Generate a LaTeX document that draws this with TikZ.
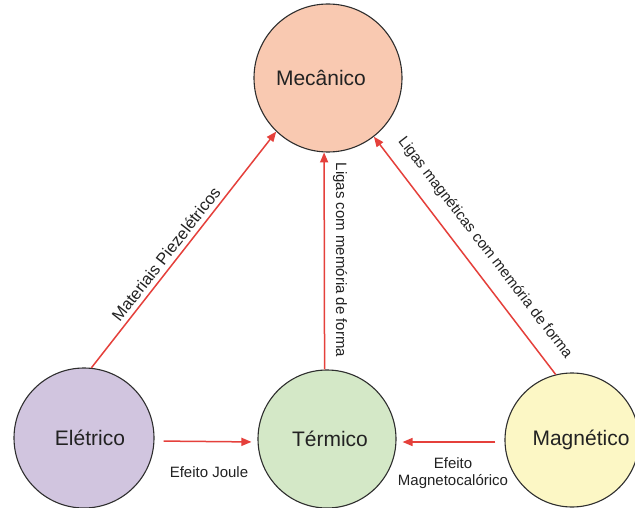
\documentclass[tikz,border=0pt]{standalone}
\usepackage{fontspec}
\setmainfont{Liberation Sans}
\usetikzlibrary{arrows.meta}
\definecolor{mecfill}{HTML}{F9C9B1}
\definecolor{elefill}{HTML}{D1C5DF}
\definecolor{terfill}{HTML}{D4E8C7}
\definecolor{magfill}{HTML}{FCF7C5}
\definecolor{circline}{HTML}{2E2E2E}
\definecolor{arrred}{HTML}{E5403B}
\definecolor{txt}{HTML}{222222}
\begin{document}
\begin{tikzpicture}[x=1pt,y=-1pt,
  circ/.style={circle, draw=circline, line width=1.1pt, inner sep=0pt,
    font=\fontsize{21}{25}\selectfont, text=txt},
  arr/.style={draw=arrred, line width=1.5pt, -{Triangle[length=10pt,width=8pt]}},
  lbl/.style={font=\fontsize{15}{17}\selectfont, text=txt, inner sep=0pt}]
\useasboundingbox (0,0) rectangle (635,508);
\fill[white] (0,0) rectangle (635,508);
\node[circ, fill=mecfill, minimum size=148pt] (mec) at (328,78) {\hspace*{-14pt}Mecânico};
\node[circ, fill=elefill, minimum size=140pt] (ele) at (84,438) {\hspace*{12pt}Elétrico};
\node[circ, fill=terfill, minimum size=138pt] (ter) at (327,439) {\hspace*{6pt}Térmico};
\node[circ, fill=magfill, minimum size=134pt] (mag) at (572,440) {\hspace*{18pt}Magnético};

\draw[arr] (ele.84) -- (mec.226);
\draw[arr] (ter.92.5) -- (mec.267.7);
\draw[arr] (mag.104) -- (mec.308);
\draw[arr, shorten <=9pt, shorten >=6pt] ([yshift=-3pt]ele.east) -- ([yshift=-3pt]ter.west);
\draw[arr, shorten <=9pt, shorten >=6pt] ([yshift=-2pt]mag.west) -- ([yshift=-3pt]ter.east);

\node[lbl, rotate=52, font=\fontsize{16.5}{18}\selectfont] (piezo) at (166,254) {Materiais Piezelétricos};
\node[lbl, rotate=-90] (ligas) at (340,260) {Ligas com memória de forma};
\node[lbl, rotate=-52.4] (ligasmag) at (485,248) {Ligas magnéticas com memória de forma};
\node[lbl, anchor=base] (joule) at (209,477) {Efeito Joule};
\node[lbl, align=center] (magcal) at (453,473) {Efeito\\Magnetocalórico};
\end{tikzpicture}
\end{document}
